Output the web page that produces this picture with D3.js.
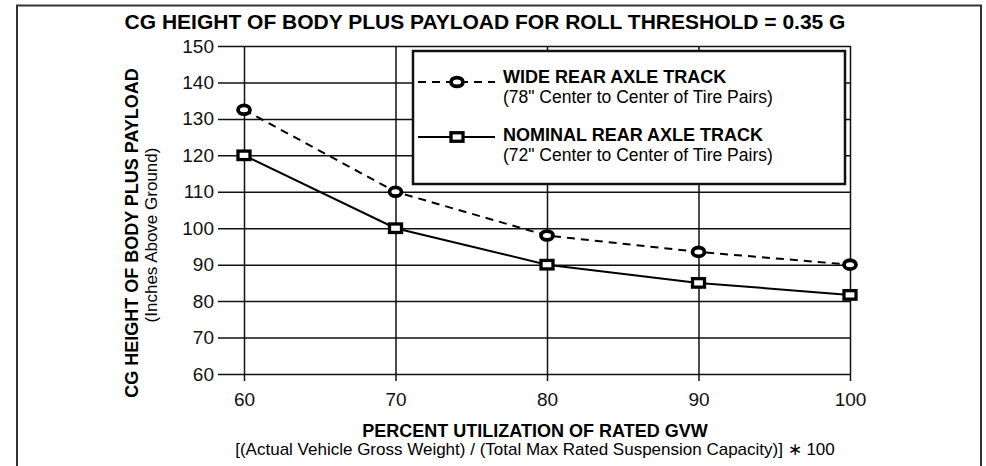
<!DOCTYPE html>
<html><head><meta charset="utf-8">
<script src="https://cdn.jsdelivr.net/npm/d3@7/dist/d3.min.js"></script>
<style>body{margin:0;background:#fff}svg{display:block;font-family:"Liberation Sans",Arial,sans-serif}</style>
</head><body>
<script>
const xValues = [60, 70, 80, 90, 100];
const wideTrack = [132.5, 110, 98, 93.5, 90];
const nominalTrack = [120, 100, 90, 85, 81.7];
const yTicks = [60, 70, 80, 90, 100, 110, 120, 130, 140, 150];
const xTicks = [60, 70, 80, 90, 100];
const titleText = "CG HEIGHT OF BODY PLUS PAYLOAD FOR ROLL THRESHOLD = 0.35 G";
const yTitle = "CG HEIGHT OF BODY PLUS PAYLOAD";
const ySub = "(Inches Above Ground)";
const xTitle = "PERCENT UTILIZATION OF RATED GVW";
const xSub = "[(Actual Vehicle Gross Weight) / (Total Max Rated Suspension Capacity)] \u2217 100";
const legendItems = [
  {name: "WIDE REAR AXLE TRACK", sub: "(78\" Center to Center of Tire Pairs)", dashed: true, marker: "circle"},
  {name: "NOMINAL REAR AXLE TRACK", sub: "(72\" Center to Center of Tire Pairs)", dashed: false, marker: "square"}
];

const W = 986, H = 466;
const L = 244, R = 850, T = 46, B = 374;
const svg = d3.select("body").append("svg").attr("width", W).attr("height", H);
svg.append("rect").attr("width", W).attr("height", H).attr("fill", "#fff");

// outer frame (no bottom edge)
svg.append("path").attr("d", `M17,${H} L17,5.5 L981,5.5 L981,${H}`)
  .attr("fill", "none").attr("stroke", "#333").attr("stroke-width", 2);

const x = d3.scaleLinear().domain([60, 100]).range([L, R]);
const y = d3.scaleLinear().domain([60, 150]).range([B, T]);

// title
svg.append("text").attr("x", 485).attr("y", 29).attr("text-anchor", "middle")
  .attr("font-weight", "bold").attr("font-size", 21).text(titleText);

// y axis + horizontal grid
const yAxis = d3.axisLeft(y).tickValues(yTicks).tickSize(R - 218).tickPadding(4);
const gy = svg.append("g").attr("transform", `translate(${R},0)`).call(yAxis);
gy.select(".domain").remove();
gy.selectAll(".tick line").attr("stroke", "#111").attr("stroke-width", 1.5);
gy.selectAll(".tick text").attr("font-size", 19).attr("fill", "#111")
  .attr("font-family", "Liberation Sans, Arial, sans-serif");

// x axis + vertical grid
const xAxis = d3.axisBottom(x).tickValues(xTicks).tickSize(-(B + 7 - T)).tickPadding(12);
const gx = svg.append("g").attr("transform", `translate(0,${B + 7})`).call(xAxis);
gx.select(".domain").remove();
gx.selectAll(".tick line").attr("stroke", "#111").attr("stroke-width", 1.5);
gx.selectAll(".tick text").attr("font-size", 19).attr("fill", "#111")
  .attr("font-family", "Liberation Sans, Arial, sans-serif");

// axis titles
svg.append("text").attr("transform", "translate(138,233) rotate(-90)").attr("text-anchor", "middle")
  .attr("font-weight", "bold").attr("font-size", 18).text(yTitle);
svg.append("text").attr("transform", "translate(157,235) rotate(-90)").attr("text-anchor", "middle")
  .attr("font-size", 17).text(ySub);
svg.append("text").attr("x", 535).attr("y", 437).attr("text-anchor", "middle")
  .attr("font-weight", "bold").attr("font-size", 18).text(xTitle);
svg.append("text").attr("x", 535).attr("y", 455).attr("text-anchor", "middle")
  .attr("font-size", 17).text(xSub);

// lines
const line = d3.line().x((d, i) => x(xValues[i])).y(d => y(d));
svg.append("path").datum(wideTrack).attr("d", line).attr("fill", "none")
  .attr("stroke", "#000").attr("stroke-width", 2).attr("stroke-dasharray", "8,6");
svg.append("path").datum(nominalTrack).attr("d", line).attr("fill", "none")
  .attr("stroke", "#000").attr("stroke-width", 2);

function drawMarker(g, type, cx, cy) {
  if (type === "circle") {
    g.append("ellipse").attr("cx", cx).attr("cy", cy).attr("rx", 6).attr("ry", 4.4)
      .attr("fill", "#fff").attr("stroke", "#000").attr("stroke-width", 3.8);
  } else {
    g.append("rect").attr("x", cx - 6).attr("y", cy - 4.25).attr("width", 12).attr("height", 8.5)
      .attr("fill", "#fff").attr("stroke", "#000").attr("stroke-width", 3.3);
  }
}
const gm = svg.append("g");
wideTrack.forEach((v, i) => drawMarker(gm, "circle", x(xValues[i]), y(v)));
nominalTrack.forEach((v, i) => drawMarker(gm, "square", x(xValues[i]), y(v)));

// legend
const lg = svg.append("g");
lg.append("rect").attr("x", 413).attr("y", 51).attr("width", 432).attr("height", 133)
  .attr("fill", "#fff").attr("stroke", "#111").attr("stroke-width", 2.5);
const rows = [{ly: 82, ty: 83, sy: 103}, {ly: 137, ty: 141, sy: 161}];
legendItems.forEach((d, i) => {
  const r = rows[i];
  lg.append("line").attr("x1", 418).attr("x2", 495).attr("y1", r.ly).attr("y2", r.ly)
    .attr("stroke", "#000").attr("stroke-width", 2).attr("stroke-dasharray", d.dashed ? "8,6" : null);
  drawMarker(lg, d.marker, 457, r.ly);
  lg.append("text").attr("x", 503).attr("y", r.ty).attr("font-weight", "bold").attr("font-size", 18).text(d.name);
  lg.append("text").attr("x", 503).attr("y", r.sy).attr("font-size", 17.5).text(d.sub);
});
</script>
</body></html>
